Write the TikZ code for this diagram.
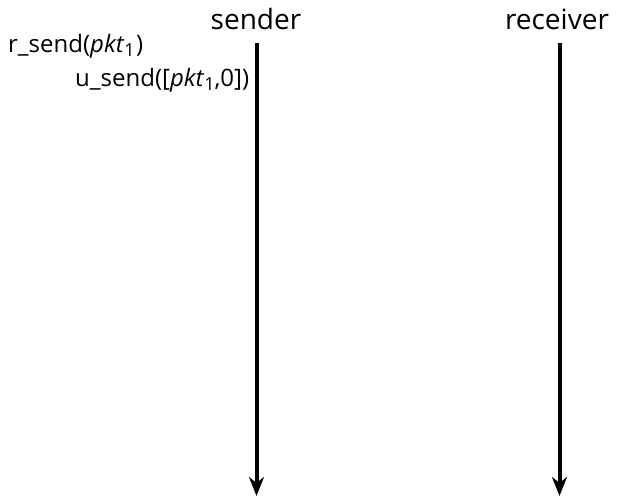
\documentclass[tikz,border=0pt]{standalone}
\usepackage{fontspec}
\setmainfont{Open Sans}
\usetikzlibrary{arrows.meta}
\newcommand{\mysub}[1]{\raisebox{-3.5pt}{\fontsize{18}{18}\selectfont #1}}
\tikzset{
  lifeline/.style={line width=4pt,-{Stealth[length=19pt,width=15pt,inset=6pt]}},
  head/.style={font=\fontsize{28}{32}\selectfont,inner sep=0pt,anchor=base},
  msg/.style={font=\fontsize{24}{28}\selectfont,inner sep=0pt,anchor=base west}
}
\begin{document}
\begin{tikzpicture}[x=1pt,y=-1pt]
\useasboundingbox (0,0) rectangle (617,497);
\node[head] (sender) at (256,30) {sender};
\node[head] (receiver) at (557,30) {receiver};
\coordinate (stop) at (256.5,43);
\coordinate (sbot) at (256.5,496);
\coordinate (rtop) at (559.5,43);
\coordinate (rbot) at (559.5,496);
\draw[lifeline] (stop) -- (sbot);
\draw[lifeline] (rtop) -- (rbot);
\node[msg] (rsend) at (8,53) {r\_send(\textit{pkt}\mysub{1}\kern1.5pt)};
\node[msg] (usend) at (75,87) {u\_send([\textit{pkt}\mysub{1},0])};
\end{tikzpicture}
\end{document}
